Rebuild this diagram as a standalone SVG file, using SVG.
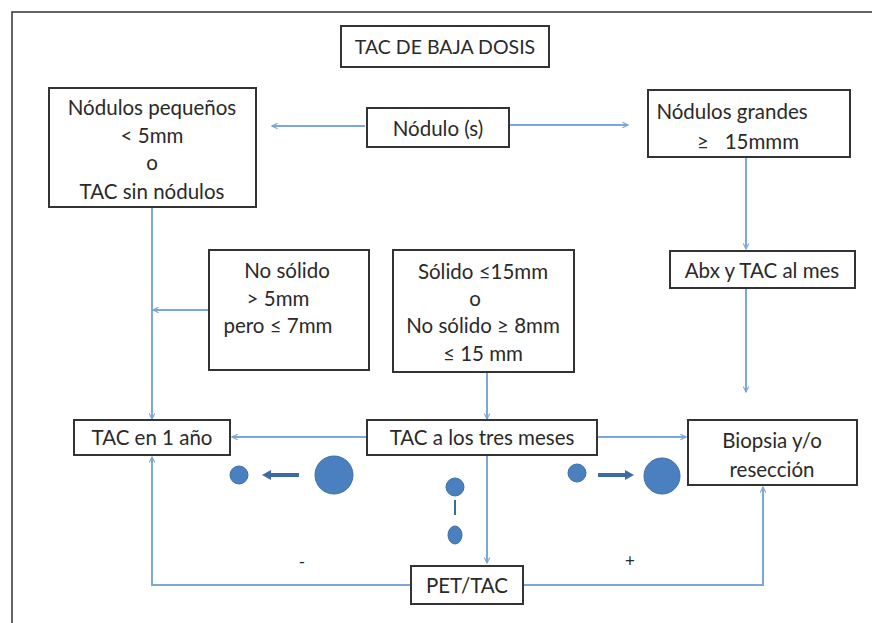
<svg xmlns="http://www.w3.org/2000/svg" width="872" height="623" viewBox="0 0 872 623">
<style>
.box{fill:#fff;stroke:#333;stroke-width:2}
.t{font-family:Lato,"Liberation Sans",sans-serif;font-size:20.5px;fill:#2a2a2a;text-anchor:middle}
.c{fill:none;stroke:#7ba7d9;stroke-width:2}
.dot{fill:#4a7fc0;stroke:#3d6ea8;stroke-width:1}
.da{stroke:#3d6aa0;stroke-width:4}
.dh{fill:#3d6aa0}
</style>
<defs>
<marker id="a" viewBox="0 0 10 10" refX="9" refY="5" markerWidth="7" markerHeight="7" orient="auto" markerUnits="userSpaceOnUse">
<path d="M1,1 L9,5 L1,9" fill="none" stroke="#7ba7d9" stroke-width="1.6"/>
</marker>
</defs>
<rect width="872" height="623" fill="#fff"/>
<path d="M12,623 V12 H872" fill="none" stroke="#333" stroke-width="1.5"/>

<g id="connectors">
<line class="c" x1="365" y1="126" x2="272" y2="126" marker-end="url(#a)"/>
<line class="c" x1="510" y1="125" x2="628" y2="125" marker-end="url(#a)"/>
<line class="c" x1="746" y1="158" x2="746" y2="249" marker-end="url(#a)"/>
<line class="c" x1="746" y1="288" x2="746" y2="392" marker-end="url(#a)"/>
<line class="c" x1="152" y1="208" x2="152" y2="419" marker-end="url(#a)"/>
<line class="c" x1="209" y1="310" x2="153" y2="310" marker-end="url(#a)"/>
<line class="c" x1="487" y1="372" x2="487" y2="419" marker-end="url(#a)"/>
<line class="c" x1="367" y1="437" x2="232" y2="437" marker-end="url(#a)"/>
<line class="c" x1="597" y1="437" x2="686" y2="437" marker-end="url(#a)"/>
<line class="c" x1="487" y1="456" x2="487" y2="563" marker-end="url(#a)"/>
<polyline class="c" points="411,585 152,585 152,457" marker-end="url(#a)"/>
<polyline class="c" points="523,585 763,585 763,487" marker-end="url(#a)"/>
</g>

<g id="title"><rect class="box" x="341" y="26" width="208" height="41"/><text class="t" x="445" y="54" style="font-size:19.5px">TAC DE BAJA DOSIS</text></g>
<g id="pequenos"><rect class="box" x="49" y="88" width="207" height="119"/>
<text class="t" x="152" y="115">Nódulos pequeños</text>
<text class="t" x="152" y="143">&lt; 5mm</text>
<text class="t" x="152" y="170">o</text>
<text class="t" x="152" y="199">TAC sin nódulos</text></g>
<g id="nodulo"><rect class="box" x="367" y="108" width="142" height="39"/><text class="t" x="438" y="136">Nódulo (s)</text></g>
<g id="grandes"><rect class="box" x="648" y="90" width="202" height="67"/>
<text class="t" x="732" y="119">Nódulos grandes</text>
<text class="t" x="748" y="149" xml:space="preserve">≥   15mmm</text></g>
<g id="abx"><rect class="box" x="670" y="251" width="185" height="37"/><text class="t" x="762" y="278">Abx y TAC al mes</text></g>
<g id="nosolido"><rect class="box" x="209" y="250" width="160" height="120"/>
<text class="t" x="287" y="278">No sólido</text>
<text class="t" x="278" y="306">&gt; 5mm</text>
<text class="t" x="278" y="333">pero ≤ 7mm</text></g>
<g id="solido"><rect class="box" x="393" y="250" width="181" height="122"/>
<text class="t" x="483" y="279">Sólido ≤15mm</text>
<text class="t" x="475" y="306">o</text>
<text class="t" x="483" y="333">No sólido ≥ 8mm</text>
<text class="t" x="483" y="361">≤ 15 mm</text></g>
<g id="tac1"><rect class="box" x="74" y="420" width="156" height="35"/><text class="t" x="152" y="445">TAC en 1 año</text></g>
<g id="tac3"><rect class="box" x="367" y="420" width="230" height="35"/><text class="t" x="482" y="445">TAC a los tres meses</text></g>
<g id="biopsia"><rect class="box" x="688" y="420" width="169" height="65"/>
<text class="t" x="772" y="448">Biopsia y/o</text>
<text class="t" x="772" y="477">resección</text></g>
<g id="pet"><rect class="box" x="411" y="566" width="112" height="38"/><text class="t" x="467" y="593">PET/TAC</text></g>

<g id="signs">
<text class="t" x="302" y="568" style="font-size:17px">-</text>
<text class="t" x="630" y="567" style="font-size:17px">+</text>
</g>

<g id="shrink">
<circle class="dot" cx="239" cy="475" r="9"/>
<line class="da" x1="299" y1="475" x2="270" y2="475"/>
<polygon class="dh" points="262,475 271,470 271,480"/>
<circle class="dot" cx="334" cy="475" r="19"/>
</g>
<g id="grow">
<circle class="dot" cx="577" cy="473" r="9"/>
<line class="da" x1="598" y1="475" x2="626" y2="475"/>
<polygon class="dh" points="634,475 625,470 625,480"/>
<circle class="dot" cx="662" cy="476" r="18"/>
</g>
<g id="stable">
<circle class="dot" cx="455" cy="487" r="9"/>
<line x1="455" y1="500" x2="455" y2="515" stroke="#3d6aa0" stroke-width="2"/>
<ellipse class="dot" cx="455" cy="535" rx="7" ry="9"/>
</g>
</svg>
